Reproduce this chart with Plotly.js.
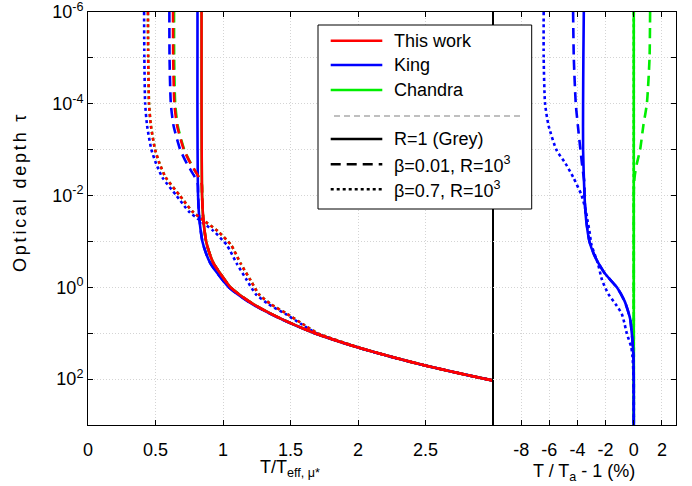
<!DOCTYPE html>
<html>
<head>
<meta charset="utf-8">
<script src="https://cdn.plot.ly/plotly-3.0.1.min.js"></script>
<style>html,body{margin:0;padding:0;background:#fff;} #plot{width:692px;height:486px;}</style>
</head>
<body>
<div id="plot"></div>
<script>
// ---------- data ----------
// optical depth grids
var tauGrey = [1e-6, 1e-5, 1e-4, 1e-3, 1e-2, 3e-2, 0.1, 0.2, 0.3, 0.5, 1, 2, 3, 5, 10, 20, 30, 50, 100, 200, 500, 1000];
var tauDash = [1e-6, 1e-5, 1e-4, 3e-4, 1e-3, 2e-3, 3.5e-3, 5.5e-3, 1e-2, 3e-2, 0.1, 0.2, 0.3, 0.5, 1, 2, 3, 5, 10, 20, 30, 50, 100, 200, 500, 1000];
var tauDot  = [1e-6, 1e-5, 1e-4, 3e-4, 1e-3, 2e-3, 4e-3, 1e-2, 2.2e-2, 3.3e-2, 5.9e-2, 0.12, 0.3, 0.7, 1.4, 2.3, 3.8, 6.3, 10, 20, 30, 50, 100, 200, 500, 1000];

// left panel: T / T_eff,mu*
var thisWorkGrey = [0.841, 0.841, 0.841, 0.842, 0.845, 0.853, 0.875, 0.905, 0.93, 0.98, 1.056, 1.19, 1.29, 1.44, 1.68, 1.99, 2.2, 2.49, 2.95, 3.5, 4.4, 5.23];
var kingGrey     = [0.8111, 0.8109, 0.8107, 0.8117, 0.8154, 0.824, 0.8474, 0.8797, 0.9068, 0.9599, 1.0433, 1.1823, 1.2842, 1.4364, 1.6776, 1.9888, 2.1993, 2.4898, 2.95, 3.5, 4.4, 5.23];
var chandraGrey  = [0.841, 0.841, 0.841, 0.842, 0.845, 0.853, 0.875, 0.905, 0.93, 0.98, 1.056, 1.19, 1.29, 1.44, 1.68, 1.99, 2.2, 2.49, 2.95, 3.5, 4.4, 5.23];

var thisWorkDash = [0.630, 0.631, 0.640, 0.660, 0.71, 0.76, 0.81, 0.842, 0.845, 0.853, 0.875, 0.905, 0.93, 0.98, 1.056, 1.19, 1.29, 1.44, 1.68, 1.99, 2.2, 2.49, 2.95, 3.5, 4.4, 5.23];
var kingDash     = [0.6028, 0.6041, 0.6136, 0.6338, 0.6831, 0.732, 0.781, 0.8125, 0.8154, 0.824, 0.8474, 0.8797, 0.9068, 0.9599, 1.0433, 1.1823, 1.2842, 1.4364, 1.6776, 1.9888, 2.1993, 2.4898, 2.95, 3.5, 4.4, 5.23];
var chandraDash  = [0.6373, 0.6381, 0.646, 0.6645, 0.7132, 0.7617, 0.8106, 0.8422, 0.845, 0.853, 0.875, 0.905, 0.93, 0.98, 1.056, 1.19, 1.29, 1.44, 1.68, 1.99, 2.2, 2.49, 2.95, 3.5, 4.4, 5.23];

var thisWorkDot = [0.444, 0.446, 0.452, 0.466, 0.497, 0.53, 0.575, 0.68, 0.772, 0.846, 0.96, 1.06, 1.13, 1.204, 1.265, 1.352, 1.475, 1.59, 1.70, 1.995, 2.2, 2.49, 2.95, 3.5, 4.4, 5.23];
var kingDot     = [0.4156, 0.4175, 0.4235, 0.4378, 0.4697, 0.5043, 0.5503, 0.6548, 0.7458, 0.8181, 0.9298, 1.0282, 1.1012, 1.1769, 1.2422, 1.3344, 1.4625, 1.5797, 1.6915, 1.9914, 2.1978, 2.4888, 2.9494, 3.5, 4.4, 5.23];
var chandraDot  = [0.444, 0.446, 0.452, 0.466, 0.497, 0.53, 0.575, 0.68, 0.772, 0.846, 0.96, 1.06, 1.13, 1.204, 1.265, 1.352, 1.475, 1.59, 1.70, 1.995, 2.2, 2.49, 2.95, 3.5, 4.4, 5.23];

// right panel: T / T_a - 1 (%)
var kingGreyRes    = [-3.55, -3.58, -3.6, -3.6, -3.5, -3.4, -3.15, -2.8, -2.5, -2.05, -1.2, -0.65, -0.45, -0.25, -0.14, -0.06, -0.03, -0.01, 0, 0, 0, 0];
var chandraGreyRes = [0, 0, 0, 0, 0, 0, 0, 0, 0, 0, 0, 0, 0, 0, 0, 0, 0, 0, 0, 0, 0, 0];
var kingDashRes    = [-4.31, -4.26, -4.12, -3.97, -3.79, -3.68, -3.58, -3.5, -3.5, -3.4, -3.15, -2.8, -2.5, -2.05, -1.2, -0.65, -0.45, -0.25, -0.14, -0.06, -0.03, -0.01, 0, 0, 0, 0];
var chandraDashRes = [1.16, 1.12, 0.93, 0.68, 0.45, 0.22, 0.08, 0.02, 0, 0, 0, 0, 0, 0, 0, 0, 0, 0, 0, 0, 0, 0, 0, 0, 0, 0];
var kingDotRes     = [-6.4, -6.4, -6.3, -6.05, -5.5, -4.85, -4.3, -3.7, -3.4, -3.3, -3.15, -3.0, -2.55, -2.25, -1.8, -1.3, -0.85, -0.65, -0.5, -0.18, -0.1, -0.05, -0.02, 0, 0, 0];
var chandraDotRes  = [0, 0, 0, 0, 0, 0, 0, 0, 0, 0, 0, 0, 0, 0, 0, 0, 0, 0, 0, 0, 0, 0, 0, 0, 0, 0];

// axis ticks
var yTickVals = [1e-6, 1e-5, 1e-4, 1e-3, 1e-2, 1e-1, 1, 10, 100, 1000];
var yTickText = ['10<sup>-6</sup>', '', '10<sup>-4</sup>', '', '10<sup>-2</sup>', '', '10<sup>0</sup>', '', '10<sup>2</sup>', ''];
var xTickVals = [0, 0.5, 1, 1.5, 2, 2.5];
var xTickText = ['0', '0.5', '1', '1.5', '2', '2.5'];
var x2TickVals = [-8, -6, -4, -2, 0, 2];
var x2TickText = ['-8', '-6', '-4', '-2', '0', '2'];

var legendModels = ['This work', 'King', 'Chandra'];
var legendStyles = ['R=1 (Grey)', 'β=0.01, R=10<sup>3</sup>', 'β=0.7, R=10<sup>3</sup>'];

// ---------- styling ----------
var RED = '#ff0000', BLUE = '#0000ff', GREEN = '#00ee00';
var DASH = '10px,6px', DOT = '3px,3px';
var LW = 2.6;
var FONT = 'Liberation Sans, Arial, Helvetica, sans-serif';

function tr(x, y, color, dash, xa, ya) {
  return {x: x, y: y, type: 'scatter', mode: 'lines', xaxis: xa, yaxis: ya,
          line: {color: color, width: LW, dash: dash, shape: 'spline', smoothing: 0.6}, showlegend: false, hoverinfo: 'skip'};
}

var traces = [
  // left panel (green under blue under red)
  tr(chandraGrey, tauGrey, GREEN, 'solid', 'x', 'y'),
  tr(chandraDash, tauDash, GREEN, DASH, 'x', 'y'),
  tr(chandraDot, tauDot, GREEN, DOT, 'x', 'y'),
  tr(kingGrey, tauGrey, BLUE, 'solid', 'x', 'y'),
  tr(kingDash, tauDash, BLUE, DASH, 'x', 'y'),
  tr(kingDot, tauDot, BLUE, DOT, 'x', 'y'),
  tr(thisWorkGrey, tauGrey, RED, 'solid', 'x', 'y'),
  tr(thisWorkDash, tauDash, RED, DASH, 'x', 'y'),
  tr(thisWorkDot, tauDot, RED, DOT, 'x', 'y'),
  // right panel
  tr(chandraGreyRes, tauGrey, GREEN, 'solid', 'x2', 'y2'),
  tr(chandraDashRes, tauDash, GREEN, DASH, 'x2', 'y2'),
  tr(chandraDotRes, tauDot, GREEN, DOT, 'x2', 'y2'),
  tr(kingGreyRes, tauGrey, BLUE, 'solid', 'x2', 'y2'),
  tr(kingDashRes, tauDash, BLUE, DASH, 'x2', 'y2'),
  tr(kingDotRes, tauDot, BLUE, DOT, 'x2', 'y2')
];

// layout geometry (pixels)
var W = 692, H = 486, ML = 88, MR = 16, MT = 12, MB = 61;
var PW = W - ML - MR, PH = H - MT - MB;
var SPLIT = 493;
function px(xp) { return (xp - ML) / PW; }
function py(yp) { return (H - MB - yp) / PH; }
var split = px(SPLIT);

var gridCommon = {showgrid: true, gridcolor: '#d4d4d4', griddash: '1px,2px', gridwidth: 1, zeroline: false,
  showline: true, linecolor: '#000', linewidth: 1, ticks: 'inside', ticklen: 5, tickcolor: '#000',
  ticklabeloverflow: 'allow', tickfont: {family: FONT, size: 18, color: '#000'}};

var layout = {
  width: W, height: H,
  margin: {l: ML, r: MR, t: MT, b: MB, pad: 0},
  paper_bgcolor: '#fff', plot_bgcolor: '#fff',
  font: {family: FONT, size: 18, color: '#000'},
  showlegend: false,
  xaxis: Object.assign({}, gridCommon, {domain: [0, split], range: [0, 3], anchor: 'y',
    tickmode: 'array', tickvals: xTickVals, ticktext: xTickText, mirror: 'ticks', ticklabelstandoff: 8}),
  xaxis2: Object.assign({}, gridCommon, {domain: [split, 1], range: [-10, 3], anchor: 'y2',
    tickmode: 'array', tickvals: x2TickVals, ticktext: x2TickText, mirror: 'ticks', ticklabelstandoff: 8}),
  yaxis: Object.assign({}, gridCommon, {type: 'log', range: [3, -6], anchor: 'x', domain: [0, 1],
    tickmode: 'array', tickvals: yTickVals, ticktext: yTickText, mirror: true}),
  yaxis2: Object.assign({}, gridCommon, {type: 'log', range: [3, -6], anchor: 'x2', domain: [0, 1], side: 'right',
    tickmode: 'array', tickvals: yTickVals, ticktext: yTickText, showticklabels: false, mirror: true}),
  shapes: [],
  annotations: []
};

// axis titles
layout.annotations.push({xref: 'paper', yref: 'paper', x: px(20), y: py(192), textangle: -90,
  text: '<span style="letter-spacing:2.8px">Optical depth τ</span>', showarrow: false,
  xanchor: 'center', yanchor: 'middle', font: {family: FONT, size: 18}});
layout.annotations.push({xref: 'paper', yref: 'paper', x: px(290), y: py(468),
  text: 'T/T<sub>eff, μ*</sub>', showarrow: false, xanchor: 'center', yanchor: 'middle', font: {family: FONT, size: 18}});
layout.annotations.push({xref: 'paper', yref: 'paper', x: px(584), y: py(472),
  text: 'T / T<sub>a</sub> - 1 (%)', showarrow: false, xanchor: 'center', yanchor: 'middle', font: {family: FONT, size: 18}});

// legend box
layout.shapes.push({type: 'rect', xref: 'paper', yref: 'paper', x0: px(318), x1: px(531.7), y0: py(209), y1: py(25),
  fillcolor: '#fff', line: {color: '#000', width: 1}, layer: 'above'});
var rowY = [40.7, 65, 90, 139, 164.3, 189.3];
var sampleColors = [RED, BLUE, GREEN, '#000', '#000', '#000'];
var sampleDash = ['solid', 'solid', 'solid', 'solid', DASH, DOT];
var labels = legendModels.concat(legendStyles);
for (var i = 0; i < 6; i++) {
  layout.shapes.push({type: 'line', xref: 'paper', yref: 'paper', x0: px(330.7), x1: px(382.3), y0: py(rowY[i]), y1: py(rowY[i]),
    line: {color: sampleColors[i], width: LW, dash: sampleDash[i]}, layer: 'above'});
  layout.annotations.push({xref: 'paper', yref: 'paper', x: px(392), y: py(rowY[i]), text: labels[i], showarrow: false,
    xanchor: 'left', yanchor: 'middle', font: {family: FONT, size: 18, color: '#000'}});
}
layout.shapes.push({type: 'line', xref: 'paper', yref: 'paper', x0: px(334), x1: px(520), y0: py(116), y1: py(116),
  line: {color: '#808080', width: 1.2, dash: '6px,4px'}, layer: 'above'});

Plotly.newPlot('plot', traces, layout, {staticPlot: true, displayModeBar: false});
</script>
</body>
</html>
